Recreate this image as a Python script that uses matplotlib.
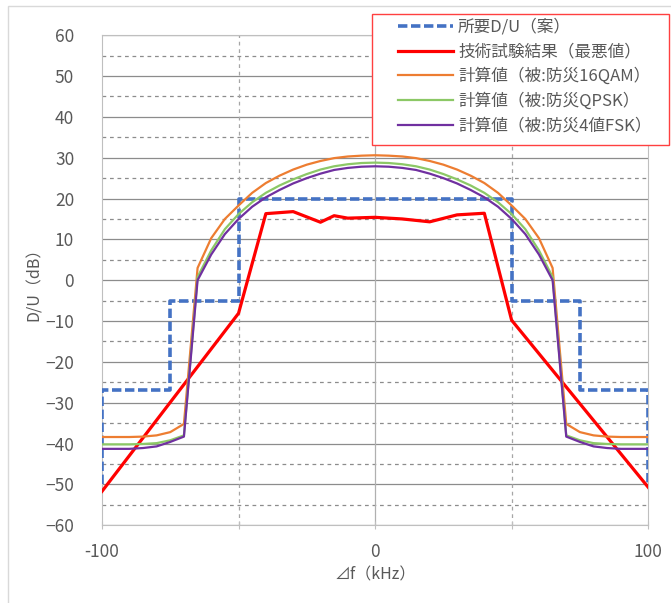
import matplotlib
matplotlib.use("Agg")
import matplotlib.pyplot as plt
from matplotlib.patches import Rectangle

plt.rcParams['font.family'] = ['Noto Sans CJK JP', 'DejaVu Sans']

# 所要D/U(案) - step mask
req_x = [-100, -100, -75, -75, -50, -50, 50, 50, 75, 75, 100, 100]
req_y = [-50, -27, -27, -5, -5, 20, 20, -5, -5, -27, -27, -50]

# 技術試験結果(最悪値)
test_x = [-100, -50, -40, -30, -20, -15, -10, 0, 10, 20, 30, 40, 50, 100]
test_y = [-51.7, -8.1, 16.3, 16.8, 14.2, 15.8, 15.2, 15.4, 15.0, 14.3, 16.0, 16.4, -9.8, -50.7]

# 計算値 (5 kHz steps)
calc_x = list(range(-100, 101, 5))
qam16_half = [-38.4, -38.4, -38.4, -38.3, -38.0, -37.2, -35.2, 3.0, 10.3, 15.0,
              18.3, 21.4, 23.8, 25.6, 27.1, 28.3, 29.2, 29.9, 30.3, 30.5, 30.6]
qpsk_half = [-40.2, -40.2, -40.2, -40.1, -39.9, -39.2, -38.0, 0.8, 7.3, 12.5,
             16.2, 19.1, 21.4, 23.2, 24.7, 26.0, 27.1, 27.9, 28.4, 28.7, 28.8]
fsk4_half = [-41.3, -41.3, -41.3, -41.1, -40.7, -39.6, -38.3, 0.0, 6.3, 11.3,
             15.0, 18.0, 20.3, 22.1, 23.7, 25.0, 26.1, 27.0, 27.5, 27.8, 27.9]
calc_16qam = qam16_half + qam16_half[-2::-1]
calc_qpsk = qpsk_half + qpsk_half[-2::-1]
calc_4fsk = fsk4_half + fsk4_half[-2::-1]

fig = plt.figure(figsize=(6.71, 6.03), dpi=100)
ax = fig.add_axes([0.152, 0.129, 0.814, 0.8126])

# グリッド
for y in range(-60, 61, 10):
    ax.axhline(y, color='#8c8c8c', lw=0.9, zorder=1)
for y in range(-55, 60, 10):
    ax.axhline(y, color='#8c8c8c', lw=0.9, ls=(0, (3, 3)), zorder=1)
for x in (-50, 50):
    ax.axvline(x, color='#a6a6a6', lw=0.9, ls=(0, (3, 3)), zorder=1)
ax.axvline(0, color='#b0b0b0', lw=0.9, zorder=1)

ax.plot(req_x, req_y, color='#4472C4', lw=2.6, ls=(0, (2.6, 1.0)), label='所要D/U（案）', zorder=3)
ax.plot(test_x, test_y, color='#FF0000', lw=2.3, label='技術試験結果（最悪値）', zorder=4)
ax.plot(calc_x, calc_16qam, color='#ED7D31', lw=1.6, label='計算値（被:防災16QAM）', zorder=5)
ax.plot(calc_x, calc_qpsk, color='#8CC866', lw=1.6, label='計算値（被:防災QPSK）', zorder=5)
ax.plot(calc_x, calc_4fsk, color='#7030A0', lw=1.6, label='計算値（被:防災4値FSK）', zorder=6)

ax.set_xlim(-100, 100)
ax.set_ylim(-60, 60)
ax.set_xticks([-100, -50, 0, 50, 100])
ax.set_xticklabels(['-100', '', '0', '', '100'])
ax.set_yticks(range(-60, 61, 10))
ax.tick_params(axis='x', direction='inout', length=6, color='#bfbfbf',
               labelsize=12.5, labelcolor='#595959', pad=10)
ax.tick_params(axis='y', length=0, labelsize=12.5, labelcolor='#595959', pad=20)
for s in ax.spines.values():
    s.set_color('#bfbfbf')

ax.set_xlabel('⊿f（kHz）', fontsize=11.5, color='#595959', labelpad=4)
ax.set_ylabel('D/U（dB）', fontsize=11.5, color='#595959', labelpad=2)

# 凡例の枠 (白地・赤枠)
fig.patches.append(Rectangle((372 / 671, 1 - 145 / 603), 297 / 671, 131 / 603,
                             transform=fig.transFigure, facecolor='white',
                             edgecolor='#FF4040', lw=1.0, zorder=2))
leg = fig.legend(loc='upper left', bbox_to_anchor=(398 / 671, 1 - 19 / 603), fontsize=12,
                 handlelength=3.3, handletextpad=0.3, labelspacing=0.44,
                 frameon=False, borderpad=0.0, borderaxespad=0.0)
leg.set_zorder(3)
for t in leg.get_texts():
    t.set_color('#595959')

# 外枠
fig.patches.append(Rectangle((0.012, -0.01), 1.0, 1.0, transform=fig.transFigure,
                             fill=False, edgecolor='#d9d9d9', lw=1.0))

fig.savefig('out.png', dpi=100)
